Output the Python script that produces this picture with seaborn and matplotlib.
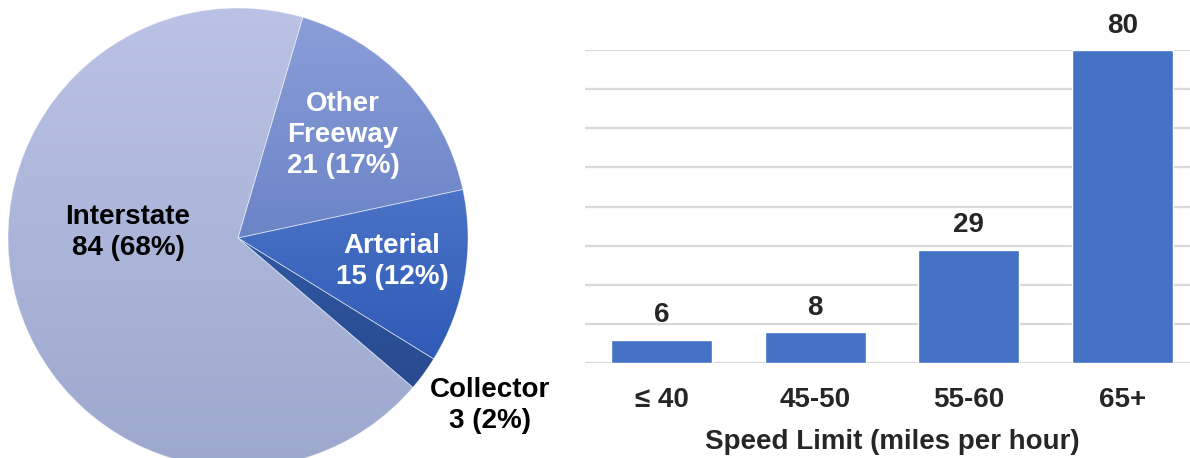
import numpy as np
import matplotlib
matplotlib.use("Agg")
import matplotlib.pyplot as plt
from matplotlib.colors import LinearSegmentedColormap
import seaborn as sns

# pie data: roadway type
road_types = ["Interstate", "Other\nFreeway", "Arterial", "Collector"]
road_counts = [84, 21, 15, 3]

# bar data: speed limit
speed_bins = ["\u2264 40", "45-50", "55-60", "65+"]
speed_counts = [6, 8, 29, 80]

sns.set_style("white")
plt.rcParams["font.family"] = ["Liberation Sans", "DejaVu Sans"]
plt.rcParams["font.weight"] = "bold"

# top / bottom colours of each wedge gradient
grad_colors = [("#bac3e5", "#9da8ce"),
               ("#8a9ed8", "#6b84c7"),
               ("#4b73c7", "#2e5bb7"),
               ("#3058a3", "#284a8f")]
text_colors = ["black", "white", "white", "black"]
label_pos = [(-0.478, 0.026), (0.457, 0.448), (0.67, -0.104), (1.096, -0.73)]

fig = plt.figure(figsize=(11.9, 4.58), dpi=100)

# ---- pie ----
ax1 = fig.add_axes([8 / 1190, -10 / 458, 460 / 1190, 460 / 458])
wedges, _ = ax1.pie(road_counts, startangle=319.5, counterclock=False,
                    radius=1, wedgeprops=dict(facecolor="none", edgecolor=(1, 1, 1, 0.45),
                                              linewidth=0.6))
grad = np.linspace(0, 1, 256).reshape(-1, 1)
for w, (top, bot) in zip(wedges, grad_colors):
    bb = w.get_path().get_extents()
    cmap = LinearSegmentedColormap.from_list("g", [top, bot])
    im = ax1.imshow(grad, cmap=cmap, aspect="auto", origin="upper",
                    extent=[bb.x0, bb.x1, bb.y0, bb.y1], zorder=0.5)
    im.set_clip_path(w)
ax1.set_xlim(-1, 1)
ax1.set_ylim(-1, 1)
ax1.set_aspect("equal")
ax1.axis("off")

total = sum(road_counts)
for name, v, (x, y), c in zip(road_types, road_counts, label_pos, text_colors):
    ax1.text(x, y, f"{name}\n{v} ({round(v / total * 100)}%)", ha="center", va="center",
             fontsize=20, fontweight="bold", color=c, linespacing=1.25,
             multialignment="center", clip_on=False, zorder=3)

# ---- bars ----
ax2 = fig.add_axes([585 / 1190, 95 / 458, 614 / 1190, 313 / 458])
sns.barplot(x=speed_bins, y=speed_counts, color="#4472c4", width=0.66,
            saturation=1, ax=ax2, zorder=2)
ax2.set_ylim(0, 80)
ax2.set_xlim(-0.5, 3.5)
ax2.set_yticks(np.arange(0, 81, 10))
ax2.set_yticklabels([])
ax2.yaxis.grid(True, color="#d9d9d9", linewidth=1.6, zorder=0)
ax2.set_axisbelow(True)
sns.despine(ax=ax2, left=True, bottom=True)
ax2.tick_params(axis="x", length=0, pad=17, labelsize=20)
ax2.tick_params(axis="y", length=0)
for lbl in ax2.get_xticklabels():
    lbl.set_fontweight("bold")
ax2.set_xlabel("Speed Limit (miles per hour)", fontsize=20, fontweight="bold", labelpad=12)
ax2.bar_label(ax2.containers[0], padding=8, fontsize=20, fontweight="bold", clip_on=False)

fig.savefig("out.png", dpi=100)
